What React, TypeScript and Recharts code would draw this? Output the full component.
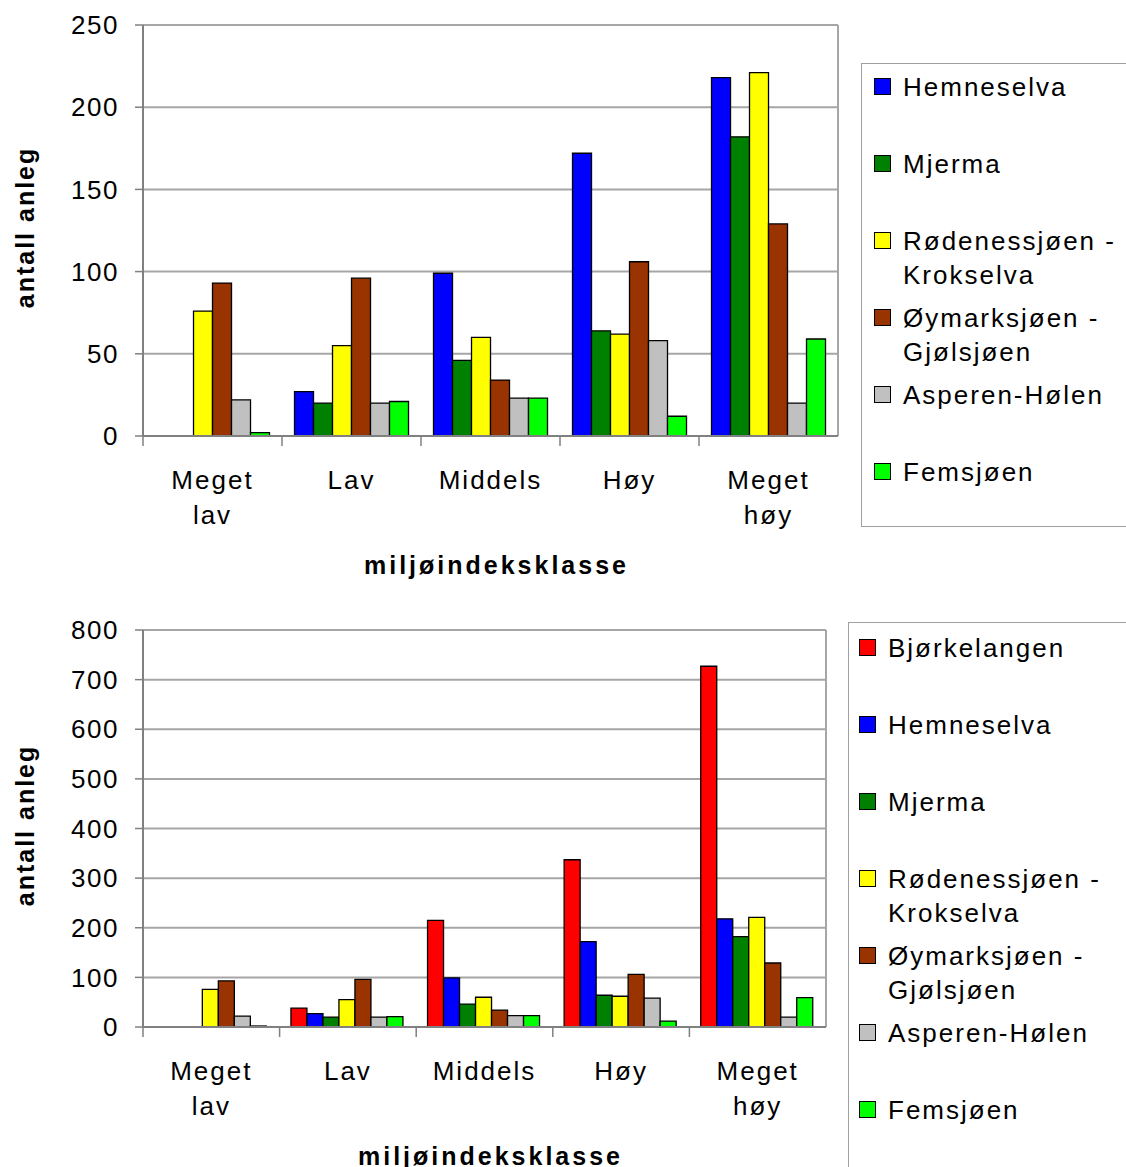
import React from "react";
import { BarChart, Bar, XAxis, YAxis, CartesianGrid } from "recharts";

const FONT = '"Liberation Sans", Arial, Helvetica, sans-serif';

const categories = ["Meget lav", "Lav", "Middels", "Høy", "Meget høy"];

// antall anlegg per miljøindeksklasse og vassdrag
const bjorkelangen = [0, 38, 215, 337, 727];
const hemneselva = [0, 27, 99, 172, 218];
const mjerma = [0, 20, 46, 64, 182];
const rodenessjoen = [76, 55, 60, 62, 221];
const oymarksjoen = [93, 96, 34, 106, 129];
const asperenHolen = [22, 20, 23, 58, 20];
const femsjoen = [2, 21, 23, 12, 59];

const topTicks = [0, 50, 100, 150, 200, 250];
const bottomTicks = [0, 100, 200, 300, 400, 500, 600, 700, 800];

type Series = { key: string; name: string; color: string; values: number[] };

const sBjo: Series = { key: "bjo", name: "Bjørkelangen", color: "#ff0000", values: bjorkelangen };
const sHem: Series = { key: "hem", name: "Hemneselva", color: "#0000ff", values: hemneselva };
const sMje: Series = { key: "mje", name: "Mjerma", color: "#008000", values: mjerma };
const sRod: Series = { key: "rod", name: "Rødenessjøen - Krokselva", color: "#ffff00", values: rodenessjoen };
const sOym: Series = { key: "oym", name: "Øymarksjøen - Gjølsjøen", color: "#993300", values: oymarksjoen };
const sAsp: Series = { key: "asp", name: "Asperen-Hølen", color: "#c0c0c0", values: asperenHolen };
const sFem: Series = { key: "fem", name: "Femsjøen", color: "#00ff00", values: femsjoen };

const topSeries = [sHem, sMje, sRod, sOym, sAsp, sFem];
const bottomSeries = [sBjo, sHem, sMje, sRod, sOym, sAsp, sFem];

const AXIS = "#808080";
const GRID = "#a6a6a6";

function toRows(series: Series[]) {
  return categories.map((c, i) => {
    const row: Record<string, string | number> = { category: c };
    series.forEach((s) => (row[s.key] = s.values[i]));
    return row;
  });
}

interface ChartProps {
  top: number;
  plotW: number;
  plotH: number;
  ticks: number[];
  series: Series[];
  gap: string;
}

function Chart({ top, plotW, plotH, ticks, series, gap }: ChartProps) {
  const band = plotW / categories.length;
  const yW = 143;
  const xH = 150;

  const CategoryTick = (props: any) => {
    const { x, y, payload } = props;
    const lines = String(payload.value).split(" ");
    return (
      <g>
        <line x1={x - band / 2} x2={x - band / 2} y1={y} y2={y + 10} stroke={AXIS} strokeWidth={1.5} />
        {lines.map((l, i) => (
          <text
            key={i}
            x={x}
            y={y + 44 + i * 35}
            textAnchor="middle"
            dominantBaseline="central"
            fontSize={26}
            letterSpacing={2}
            fontFamily={FONT}
            fill="#000"
          >
            {l}
          </text>
        ))}
      </g>
    );
  };

  const xTitle = (props: any) => {
    const vb = props.viewBox;
    return (
      <text
        x={vb.x + vb.width / 2 + 6}
        y={vb.y + 129}
        textAnchor="middle"
        dominantBaseline="central"
        fontSize={25}
        fontWeight="bold"
        letterSpacing={3}
        fontFamily={FONT}
        fill="#000"
      >
        miljøindeksklasse
      </text>
    );
  };

  const yTitle = (props: any) => {
    const vb = props.viewBox;
    const cx = 25;
    const cy = vb.y + vb.height / 2 - 3;
    return (
      <text
        x={cx}
        y={cy}
        transform={`rotate(-90, ${cx}, ${cy})`}
        textAnchor="middle"
        dominantBaseline="central"
        fontSize={25}
        fontWeight="bold"
        letterSpacing={2}
        fontFamily={FONT}
        fill="#000"
      >
        antall anleg
      </text>
    );
  };

  return (
    <div style={{ position: "absolute", left: 0, top }}>
      <BarChart
        width={yW + plotW + 4}
        height={25 + plotH + xH}
        data={toRows(series)}
        margin={{ top: 25, right: 4, left: 0, bottom: 0 }}
        barCategoryGap={gap}
        barGap={0}
      >
        <CartesianGrid
          stroke={GRID}
          strokeWidth={2}
          verticalCoordinatesGenerator={({ offset }: any) => [offset.left + offset.width]}
        />
        <XAxis
          dataKey="category"
          height={xH}
          interval={0}
          tickLine={false}
          tickSize={0}
          tickMargin={0}
          axisLine={{ stroke: AXIS, strokeWidth: 2 }}
          tick={CategoryTick}
          label={xTitle}
        />
        <YAxis
          width={yW}
          domain={[0, ticks[ticks.length - 1]]}
          ticks={ticks}
          interval={0}
          tickSize={8}
          tickMargin={16}
          tickLine={{ stroke: AXIS, strokeWidth: 1.5 }}
          axisLine={{ stroke: AXIS, strokeWidth: 2 }}
          tick={{ fill: "#000", fontSize: 26, fontFamily: FONT, letterSpacing: 1.5 }}
          label={yTitle}
        />
        {series.map((s) => (
          <Bar
            key={s.key}
            dataKey={s.key}
            name={s.name}
            fill={s.color}
            stroke="#000"
            strokeWidth={1.3}
            isAnimationActive={false}
          />
        ))}
      </BarChart>
    </div>
  );
}

interface LegendProps {
  left: number;
  top: number;
  height: number;
  padLeft: number;
  padTop: number;
  series: Series[];
}

function LegendBox({ left, top, height, padLeft, padTop, series }: LegendProps) {
  return (
    <div
      style={{
        position: "absolute",
        left,
        top,
        width: 320,
        height,
        border: "1.5px solid #a0a0a0",
        boxSizing: "border-box",
        fontFamily: FONT,
        fontSize: 26,
        letterSpacing: 2,
        color: "#000",
      }}
    >
      {series.map((s, i) => (
        <div
          key={s.key}
          style={{
            position: "absolute",
            left: padLeft,
            top: padTop + i * 77,
            display: "flex",
            alignItems: "flex-start",
            lineHeight: "34px",
            whiteSpace: "pre",
          }}
        >
          <span
            style={{
              display: "inline-block",
              width: 15,
              height: 15,
              marginTop: 8,
              marginRight: 12,
              background: s.color,
              border: "1.5px solid #000",
            }}
          />
          <span>{s.name.replace(" - ", " -\n")}</span>
        </div>
      ))}
    </div>
  );
}

export default function App() {
  return (
    <div
      style={{
        position: "absolute",
        left: 0,
        top: 0,
        width: 1126,
        height: 1167,
        overflow: "hidden",
        background: "#fff",
      }}
    >
      <Chart top={0} plotW={695} plotH={411} ticks={topTicks} series={topSeries} gap="9%" />
      <LegendBox left={861} top={63} height={464} padLeft={12} padTop={6} series={topSeries} />
      <Chart top={605} plotW={683} plotH={397} ticks={bottomTicks} series={bottomSeries} gap="8.3%" />
      <LegendBox left={848} top={622} height={600} padLeft={10} padTop={8} series={bottomSeries} />
    </div>
  );
}
